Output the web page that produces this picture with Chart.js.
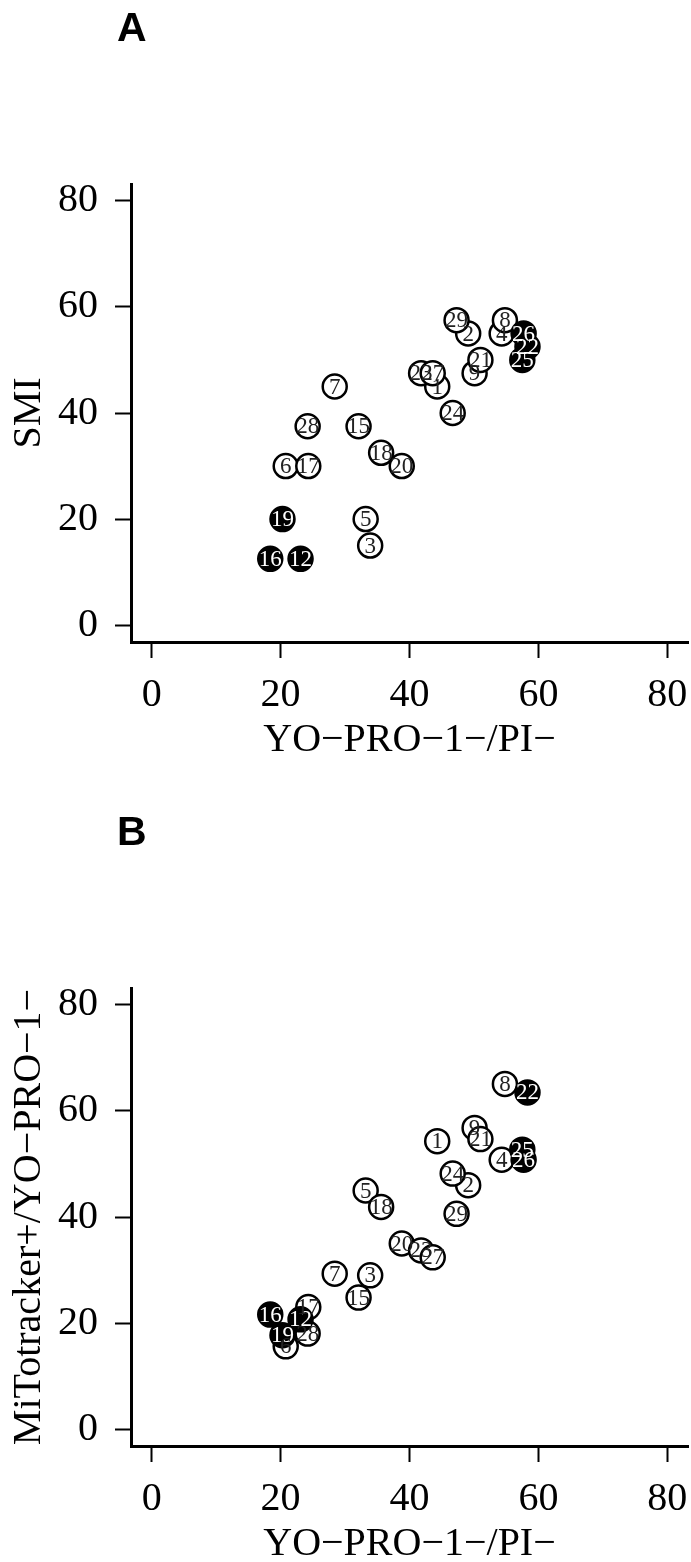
<!DOCTYPE html>
<html>
<head>
<meta charset="utf-8">
<script src="https://cdn.jsdelivr.net/npm/chart.js@4.4.1/dist/chart.umd.min.js"></script>
<style>
html, body { margin: 0; padding: 0; width: 691px; height: 1562px; overflow: hidden; background: #fff; }
.panel { position: absolute; left: 0; width: 691px; height: 804px; }
.tag { position: absolute; left: 117px; top: 7px; font: bold 41px 'Liberation Sans', Arial, sans-serif; line-height: 1; color: #000; }
</style>
</head>
<body>
<div class="panel" style="top:0"><canvas id="chartA" width="691" height="804"></canvas><div class="tag">A</div></div>
<div class="panel" style="top:804px"><canvas id="chartB" width="691" height="804"></canvas><div class="tag">B</div></div>
<script>
// tick labels and titles
const xTicks = [0, 20, 40, 60, 80];
const yTicks = [0, 20, 40, 60, 80];
const xTitle = 'YO−PRO−1−/PI−';
const yTitleA = 'SMI';
const yTitleB = 'MiTotracker+/YO−PRO−1−';

// sample numbers and their values
const sampleIds = [1, 2, 3, 4, 5, 6, 7, 8, 9, 12, 15, 16, 17, 18, 19, 20, 21, 22, 23, 24, 25, 26, 27, 28, 29];
const yoproVals = [44.3, 49.1, 33.9, 54.3, 33.2, 20.8, 28.4, 54.8, 50.1, 23.1, 32.1, 18.4, 24.3, 35.6, 20.3, 38.8, 51.0, 58.3, 41.8, 46.7, 57.5, 57.7, 43.6, 24.2, 47.3];
const smiVals = [45, 55, 15, 55, 20, 30, 45, 57.5, 47.5, 12.5, 37.5, 12.5, 30, 32.5, 20, 30, 50, 52.5, 47.5, 40, 50, 55, 47.5, 37.5, 57.5];
const mitoVals = [54.3, 46.0, 29.0, 50.8, 45.0, 15.6, 29.3, 65.1, 56.8, 20.7, 24.8, 21.6, 23.0, 41.9, 17.7, 35.0, 54.7, 63.5, 33.7, 48.2, 52.7, 50.8, 32.4, 18.0, 40.6];
// samples drawn as filled black circles
const filledIds = [12, 16, 19, 22, 25, 26];

const serif = '"Liberation Serif", "Times New Roman", serif';

// draws the sample number inside each circle
const pointLabels = {
    id: 'pointLabels',
    afterDatasetsDraw(chart) {
        const ctx = chart.ctx;
        ctx.save();
        ctx.font = '23px ' + serif;
        ctx.textAlign = 'center';
        ctx.textBaseline = 'middle';
        chart.data.datasets.forEach((ds, di) => {
            chart.getDatasetMeta(di).data.forEach((el, i) => {
                ctx.fillStyle = ds.labelColor;
                ctx.fillText(String(ds.data[i].id), el.x, el.y + 1);
            });
        });
        ctx.restore();
    }
};

function axisOpts(ticks, title, isX) {
    return {
        type: 'linear',
        min: -3.2,
        max: 83.2,
        afterBuildTicks: s => { s.ticks = ticks.map(v => ({ value: v })); },
        afterFit: s => {
            if (isX) s.height = 136; else s.width = 131;
            s.paddingLeft = 0; s.paddingRight = 0; s.paddingTop = 0; s.paddingBottom = 0;
        },
        grid: { display: true, drawOnChartArea: false, drawTicks: true, tickLength: 16, tickWidth: 2, tickColor: '#000' },
        border: { display: true, color: '#000', width: 3 },
        // x labels: no padding, pushed down with a tall line height instead
        ticks: {
            color: '#000',
            font: { family: serif, size: 40, lineHeight: isX ? 1.85 : 1.2 },
            padding: isX ? 0 : 17,
            maxRotation: 0,
            autoSkip: false
        },
        title: { display: true, text: title, color: '#000', font: { family: serif, size: 40 }, padding: isX ? { top: 0, bottom: 14 } : { top: 5, bottom: 0 } }
    };
}

function makeChart(id, yVals, yTitle) {
    const filled = [], open = [];
    sampleIds.forEach((sid, i) => {
        const pt = { x: yoproVals[i], y: yVals[i], id: sid };
        (filledIds.includes(sid) ? filled : open).push(pt);
    });
    return new Chart(document.getElementById(id), {
        type: 'scatter',
        data: {
            datasets: [
                { data: filled, backgroundColor: '#000', borderColor: '#000', labelColor: '#fff', pointRadius: 12, borderWidth: 2.5 },
                { data: open, backgroundColor: '#fff', borderColor: '#000', labelColor: '#222', pointRadius: 12, borderWidth: 2.5 }
            ]
        },
        options: {
            responsive: false,
            animation: false,
            events: [],
            layout: { autoPadding: false, padding: { left: 0, right: 3, top: 184, bottom: 26 } },
            plugins: { legend: { display: false }, tooltip: { enabled: false } },
            scales: {
                x: axisOpts(xTicks, xTitle, true),
                y: axisOpts(yTicks, yTitle, false)
            }
        },
        plugins: [pointLabels]
    });
}

makeChart('chartA', smiVals, yTitleA);
makeChart('chartB', mitoVals, yTitleB);
</script>
</body>
</html>
